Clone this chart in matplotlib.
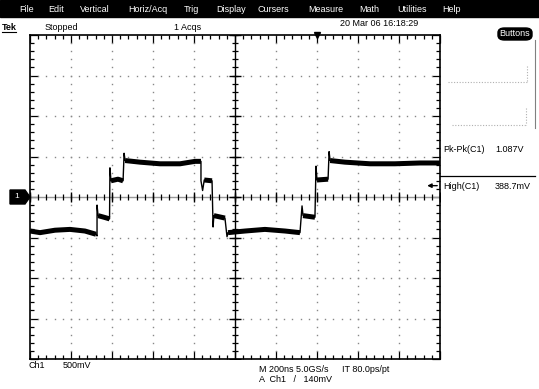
import numpy as np
import matplotlib.pyplot as plt
from matplotlib.patches import Rectangle, FancyBboxPatch, Polygon

plt.rcParams['font.family'] = ['Liberation Sans', 'DejaVu Sans']

# channel 1 trace: time in ns, level in V
t_ns = [-1000, -951, -878, -805, -732, -678, -673, -673, -668, -639, -612, -610,
        -605, -571, -546, -541, -536, -463, -366, -268, -195, -166, -166, -158,
        -150, -112, -107, -103, -49, -39, -34, 49, 146, 244, 317, 327,
        332, 390, 395, 400, 454, 459, 464, 537, 659, 780, 902, 1000]
v_ch1 = [-0.42, -0.44, -0.41, -0.40, -0.42, -0.46, -0.48, -0.10, -0.23, -0.25, -0.27, 0.36,
         0.20, 0.22, 0.20, 0.54, 0.45, 0.43, 0.41, 0.41, 0.44, 0.44, 0.20, 0.08,
         0.21, 0.20, -0.37, -0.23, -0.26, -0.49, -0.44, -0.42, -0.40, -0.42, -0.44, -0.11,
         -0.23, -0.25, 0.38, 0.21, 0.22, 0.56, 0.45, 0.43, 0.41, 0.41, 0.42, 0.42]

menu_items = ['File', 'Edit', 'Vertical', 'Horiz/Acq', 'Trig', 'Display',
              'Cursers', 'Measure', 'Math', 'Utilities', 'Help']
menu_x = [19, 48, 80, 128, 184, 216, 258, 308, 359, 397, 442]

meas_names = ['Pk-Pk(C1)', 'High(C1)']
meas_values = ['1.087V', '388.7mV']
meas_y = [149, 186]

volts_per_div = 0.5
ns_per_div = 200
trig_level = 0.14
trig_pos = 400

W, H = 539, 389
fig = plt.figure(figsize=(W / 100, H / 100), dpi=100)
fig.patch.set_facecolor('white')


def fx(x):
    return x / W


def fy(y):
    return 1 - y / H


def txt(x, y, s, size=6.5, color='black', **kw):
    fig.text(fx(x), fy(y), s, fontsize=size, color=color, va='center', ha='left', **kw)


# menu bar
fig.patches.append(Rectangle((0, fy(17)), 1, 17 / H, transform=fig.transFigure,
                             color='black', zorder=0))
for name, x in zip(menu_items, menu_x):
    txt(x, 10, name, color='white')

# status row
txt(2, 27, 'Tek', size=6.5, weight='bold')
fig.add_artist(plt.Line2D([fx(2), fx(16)], [fy(32), fy(32)], color='black', lw=0.8))
txt(45, 27, 'Stopped')
txt(174, 27, '1 Acqs')
txt(340, 24, '20 Mar 06 16:18:29')
fig.patches.append(FancyBboxPatch((fx(498), fy(40)), (532 - 498) / W, 12 / H,
                                  boxstyle='round,pad=0,rounding_size=0.012',
                                  transform=fig.transFigure, color='black'))
fig.text(fx(515), fy(34), 'Buttons', fontsize=6.5, color='white', ha='center', va='center')

# graticule
ax = fig.add_axes([fx(30), fy(359), (440 - 30) / W, (359 - 35) / H])
ax.set_xlim(-5 * ns_per_div, 5 * ns_per_div)
ax.set_ylim(-4 * volts_per_div, 4 * volts_per_div)
ax.set_xticks(np.arange(-5, 6) * ns_per_div)
ax.set_xticks(np.arange(-25, 26) * ns_per_div / 5, minor=True)
ax.set_yticks(np.arange(-4, 5) * volts_per_div)
ax.set_yticks(np.arange(-20, 21) * volts_per_div / 5, minor=True)
ax.tick_params(which='both', direction='in', top=True, right=True,
               labelbottom=False, labelleft=False, color='black', width=0.9)
ax.tick_params(which='major', length=6)
ax.tick_params(which='minor', length=3)
for s in ax.spines.values():
    s.set_linewidth(1.2)

dot_kw = dict(ls='none', marker='s', ms=1.0, color='#888888', mew=0)
xs_minor = np.arange(-25, 26) * ns_per_div / 5
ys_minor = np.arange(-20, 21) * volts_per_div / 5
for k in [-4, -3, -2, -1, 1, 2, 3, 4]:
    ax.plot(np.full(len(ys_minor), k * ns_per_div), ys_minor, **dot_kw)
for k in [-3, -2, -1, 1, 2, 3]:
    ax.plot(xs_minor, np.full(len(xs_minor), k * volts_per_div), **dot_kw)

# center cross with ticks
ax.axhline(0, color='#9a9a9a', lw=1.0)
ax.axvline(0, color='black', lw=1.0)
ax.plot(xs_minor, np.zeros(len(xs_minor)), ls='none', marker='|', ms=5, mew=0.9, color='black')
ax.plot(np.arange(-5, 6) * ns_per_div, np.zeros(11), ls='none', marker='|', ms=7, mew=1.0, color='black')
ax.plot(np.zeros(len(ys_minor)), ys_minor, ls='none', marker='_', ms=5, mew=0.9, color='black')
ax.plot(np.zeros(9), np.arange(-4, 5) * volts_per_div, ls='none', marker='_', ms=8, mew=1.0, color='black')

# trace: thin everywhere, thick noisy band along the flat parts
t = np.array(t_ns, dtype=float)
v = np.array(v_ch1, dtype=float)
ax.plot(t, v, color='black', lw=1.0, zorder=5)
start = 0
for i in range(len(t) - 1):
    if t[i + 1] - t[i] <= 20:
        if i > start:
            ax.plot(t[start:i + 1], v[start:i + 1], color='black', lw=3.6,
                    solid_capstyle='butt', solid_joinstyle='round', zorder=5)
        start = i + 1
if start < len(t) - 1:
    ax.plot(t[start:], v[start:], color='black', lw=3.6,
            solid_capstyle='butt', solid_joinstyle='round', zorder=5)

# trigger position marker on top
ax.plot([trig_pos], [4 * volts_per_div], marker='v', ms=5, color='black', clip_on=False, zorder=6)

# channel ground marker
fig.patches.append(Polygon([[fx(10), fy(190)], [fx(25), fy(190)], [fx(30), fy(197)],
                            [fx(25), fy(204)], [fx(10), fy(204)]],
                           closed=True, transform=fig.transFigure, color='black'))
fig.text(fx(17), fy(197), '1', fontsize=6, color='white', ha='center', va='center')

# trigger level arrow
ax.annotate('', xy=(0.962, trig_level), xycoords=('axes fraction', 'data'),
            xytext=(1.0, trig_level), textcoords=('axes fraction', 'data'),
            arrowprops=dict(arrowstyle='-|>', color='black', lw=1.0, mutation_scale=6))

# measurement panel
faint = dict(color='#b0b0b0', lw=0.8, ls=(0, (1, 1.5)))
fig.add_artist(plt.Line2D([fx(448), fx(527)], [fy(82), fy(82)], **faint))
fig.add_artist(plt.Line2D([fx(527), fx(527)], [fy(66), fy(82)], **faint))
fig.add_artist(plt.Line2D([fx(452), fx(526)], [fy(125), fy(125)], **faint))
fig.add_artist(plt.Line2D([fx(526), fx(526)], [fy(108), fy(125)], **faint))
fig.add_artist(plt.Line2D([fx(535), fx(535)], [fy(40), fy(128)], color='#808080', lw=0.8))
fig.add_artist(plt.Line2D([fx(440), fx(535)], [fy(176), fy(176)], color='black', lw=0.9))
for name, val, y in zip(meas_names, meas_values, meas_y):
    txt(443, y, name)
    txt(495, y, val)

# bottom readouts
txt(28, 366, 'Ch1')
txt(63, 366, '500mV')
txt(259, 369, 'M 200ns 5.0GS/s')
txt(342, 369, 'IT 80.0ps/pt')
txt(259, 380, 'A  Ch1   /   140mV')

fig.savefig('out.png', dpi=100)
